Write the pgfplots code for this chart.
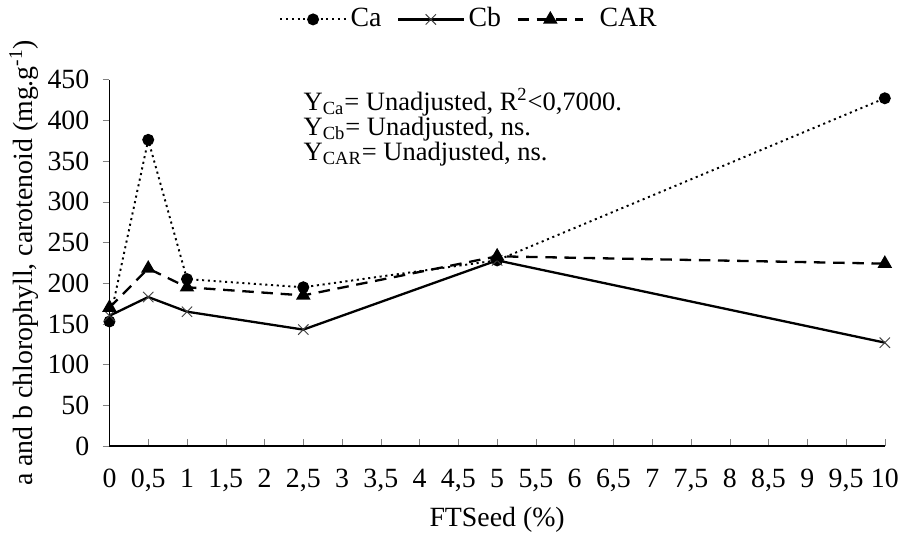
\documentclass[border=0pt]{standalone}
\usepackage{fontspec}
\setmainfont{Liberation Serif}
\usepackage{pgfplots}
\pgfplotsset{compat=1.18}

\begin{document}
\fontsize{14.5}{17}\selectfont
\begin{tikzpicture}
\begin{axis}[
  scale only axis,
  width=404pt, height=191pt,
  xmin=0, xmax=10, ymin=0, ymax=450,
  xtick={0,0.5,...,10},
  ytick={0,50,...,450},
  axis lines*=left,
  axis line style={line width=0.7pt},
  xtick align=inside,
  ytick align=outside,
  major tick length=3.5pt,
  /pgf/number format/use comma,
  /pgf/number format/assume math mode=true,
  tick label style={font=\fontsize{14.5}{17}\selectfont},
  label style={font=\fontsize{14.5}{17}\selectfont},
  xticklabel style={yshift=-7pt},
  yticklabel style={xshift=-2pt},
  xlabel={FTSeed (\%)},
  xlabel style={yshift=2pt},
  ylabel={a and b chlorophyll, carotenoid (mg.g\textsuperscript{-1})},
  ylabel style={yshift=-5pt},
  legend columns=-1,
  legend style={at={(0.465,1.11)}, anchor=south, draw=none,
    font=\fontsize{14.5}{17}\selectfont,
    /tikz/every even column/.append style={column sep=6pt}},
  legend image code/.code={%
    \draw[mark repeat=2, mark phase=2, #1] plot coordinates {(0cm,0cm) (0.6cm,0cm) (1.2cm,0cm)};},
  clip=false,
]
\addplot[black, line width=1pt, dash pattern=on 1.1pt off 1.9pt, mark=*, mark size=2.6pt,
  mark options={solid}] coordinates {
  (0,153) (0.5,376) (1,205) (2.5,195) (5,228) (10,427)
};
\addlegendentry{Ca}
\addplot[black, line width=1.2pt, mark=x, mark size=3.8pt,
  mark options={solid, line width=0.5pt, black!75}] coordinates {
  (0,160) (0.5,183) (1,165) (2.5,143) (5,228) (10,127)
};
\addlegendentry{Cb}
\addplot[black, line width=1.2pt, dash pattern=on 6pt off 4pt, mark=triangle*, mark size=3.2pt,
  mark options={solid}] coordinates {
  (0,170) (0.5,218) (1,195) (2.5,185) (5,233) (10,224)
};
\addlegendentry{\hspace{6pt}CAR}
\node[anchor=north west, align=left, inner sep=0pt, font=\fontsize{13.8}{12.5}\selectfont]
  at (axis cs:2.5,440) {%
  Y\textsubscript{Ca}= Unadjusted, R\textsuperscript{2}<0,7000.\\[-0.5pt]
  Y\textsubscript{Cb}= Unadjusted, ns.\\[-0.5pt]
  Y\textsubscript{CAR}= Unadjusted, ns.};
\end{axis}
\end{tikzpicture}
\end{document}
